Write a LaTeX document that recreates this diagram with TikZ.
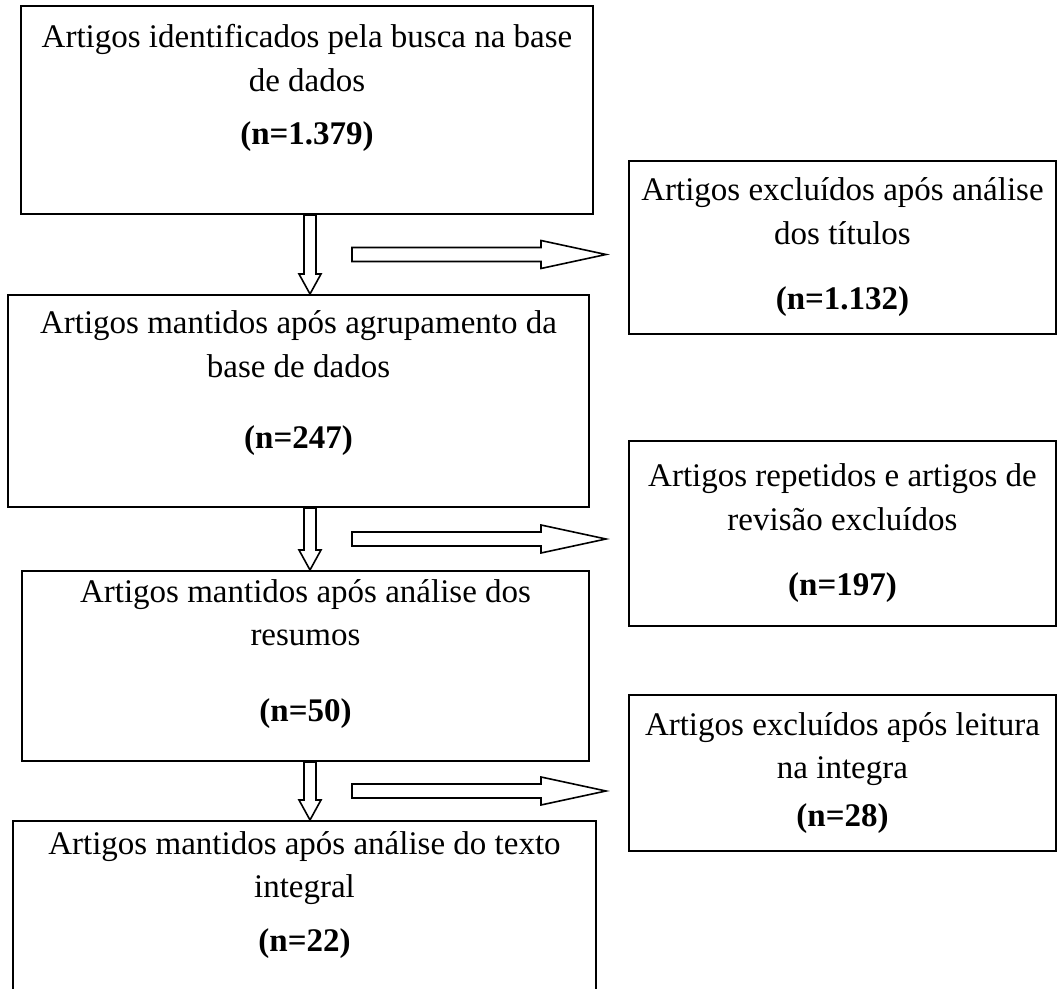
\documentclass[tikz,border=0pt]{standalone}
\usepackage{fontspec}
\setmainfont{Liberation Serif}
\usetikzlibrary{positioning,calc}

% extra depth below the last line, lifts the text inside a box
\newcommand{\lift}[1]{\rule[-#1]{0pt}{#1}}

\begin{document}
\begin{tikzpicture}[
        x=0.5pt, y=-0.5pt,
        stagebox/.style={rectangle, draw=black, line width=1pt, align=center, inner sep=0pt, font=\fontsize{16.5}{21.75}\selectfont},
        dropbox/.style={stagebox, minimum width=213.5pt, anchor=north west},
        downarrow/.style={draw=black, line width=0.8pt, miter limit=20, to path={
            -- ($(\tikztostart)+(-3pt,0pt)$) -- ($(\tikztotarget)+(-3pt,10pt)$)
            -- ($(\tikztotarget)+(-5.5pt,10pt)$) -- (\tikztotarget)
            -- ($(\tikztotarget)+(5.5pt,10pt)$) -- ($(\tikztotarget)+(3pt,10pt)$)
            -- ($(\tikztostart)+(3pt,0pt)$) -- cycle}},
        rightarrow/.style={draw=black, line width=0.8pt, miter limit=20, to path={
            -- ($(\tikztostart)+(0pt,3.5pt)$) -- ($(\tikztotarget)+(-32.5pt,3.5pt)$)
            -- ($(\tikztotarget)+(-32.5pt,7pt)$) -- (\tikztotarget)
            -- ($(\tikztotarget)+(-32.5pt,-7pt)$) -- ($(\tikztotarget)+(-32.5pt,-3.5pt)$)
            -- ($(\tikztostart)+(0pt,-3.5pt)$) -- cycle}}
    ]
    \useasboundingbox (0,0) rectangle (1057,989);

    % Kept articles
    \node[stagebox, minimum width=286pt, minimum height=104pt, anchor=north west] (search) at (20,5)
        {Artigos identificados pela busca na base\\de dados\\[5pt]\textbf{(n=1.379)}\lift{25.5pt}};
    \node[stagebox, minimum width=290.5pt, minimum height=106pt, below=39.5pt of search, xshift=-4.25pt] (grouped)
        {Artigos mantidos após agrupamento da\\base de dados\\[14pt]\textbf{(n=247)}\lift{21pt}};
    \node[stagebox, minimum width=283.5pt, minimum height=95pt, below=31pt of grouped, xshift=3.5pt] (abstracts)
        {Artigos mantidos após análise dos\\resumos\\[16pt]\textbf{(n=50)}\lift{15.5pt}};
    \node[stagebox, minimum width=291.5pt, minimum height=86.5pt, below=29pt of abstracts, xshift=-0.5pt] (fulltext)
        {Artigos mantidos após análise do texto\\integral\\[5pt]\textbf{(n=22)}\lift{16pt}};

    % Excluded articles
    \node[dropbox, minimum height=86.5pt] (titles) at (628,160)
        {Artigos excluídos após análise\\dos títulos\\[11pt]\textbf{(n=1.132)}};
    \node[dropbox, minimum height=92.5pt] (repeated) at (628,440)
        {Artigos repetidos e artigos de\\revisão excluídos\\[11pt]\textbf{(n=197)}};
    \node[dropbox, minimum height=78pt] (reading) at (628,694)
        {Artigos excluídos após leitura\\na integra\\[2pt]\textbf{(n=28)}};

    % Arrow positions
    \coordinate (axis) at (310,0);
    \coordinate (hs) at (352,0);
    \coordinate (he) at (606,0);
    \coordinate (g1) at ($(search.south)!0.5!(grouped.north)$);
    \coordinate (g2) at ($(grouped.south)!0.5!(abstracts.north)$);
    \coordinate (g3) at ($(abstracts.south)!0.5!(fulltext.north)$);

    % Arrows
    \draw[downarrow] (search.south -| axis) to (grouped.north -| axis);
    \draw[downarrow] (grouped.south -| axis) to (abstracts.north -| axis);
    \draw[downarrow] (abstracts.south -| axis) to (fulltext.north -| axis);
    \draw[rightarrow] (g1 -| hs) to (g1 -| he);
    \draw[rightarrow] (g2 -| hs) to (g2 -| he);
    \draw[rightarrow] (g3 -| hs) to (g3 -| he);

\end{tikzpicture}
\end{document}
